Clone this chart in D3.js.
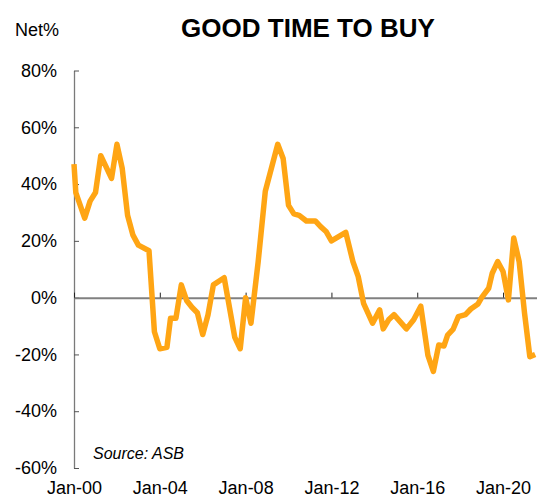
<!DOCTYPE html>
<html>
<head>
<meta charset="utf-8">
<script src="https://cdn.jsdelivr.net/npm/d3@7"></script>
<style>
  body { margin: 0; background: #fff; }
  svg { display: block; font-family: "Liberation Sans", Arial, sans-serif; }
</style>
</head>
<body>
<div id="chart"></div>
<script>
// values
var dates = ["2000-01","2000-02","2000-07","2000-10","2001-01","2001-04","2001-10","2002-01","2002-04","2002-07",
  "2002-10","2003-01","2003-07","2003-10","2004-01","2004-05","2004-07","2004-10","2005-01","2005-04",
  "2005-07","2005-10","2006-01","2006-04","2006-07","2007-01","2007-07","2007-10","2008-01","2008-04",
  "2008-08","2008-12","2009-07","2009-10","2010-01","2010-04","2010-07","2010-11","2011-04","2011-07",
  "2011-10","2012-01","2012-09","2013-01","2013-04","2013-07","2013-12","2014-04","2014-06","2014-09",
  "2014-12","2015-07","2015-11","2016-03","2016-07","2016-10","2017-01","2017-04","2017-06","2017-09",
  "2017-12","2018-04","2018-07","2018-11","2019-01","2019-05","2019-07","2019-10","2020-01","2020-04",
  "2020-07","2020-10","2021-01","2021-04","2021-07"];
var netValues = [47,37,28,34,37,50,42,54,45.5,29,
  22,18.5,16.5,-12,-18,-17.5,-7.3,-7.3,4.5,-1,
  -3.4,-5.3,-13,-6,4.5,7,-14,-18,0,-9,
  12.5,37.5,54,49,32.5,29.5,29,27,27,25,
  23.3,20,23,12.7,7.4,-2,-9,-4.3,-11,-7.8,
  -6,-11,-7.8,-3,-20.3,-26,-16.7,-17,-13.2,-11.2,
  -6.7,-6,-4,-2.2,0,3.3,8.6,12.7,9.2,-0.8,
  21,12.7,-5.5,-20.8,-20];
var yTicks = [-60,-40,-20,0,20,40,60,80];
var xTickYears = [2000,2004,2008,2012,2016,2020];

var width = 537, height = 500;
var parse = d3.timeParse("%Y-%m");
var data = dates.map(function (d, i) { return { date: parse(d), value: netValues[i] }; });

var svg = d3.select("#chart").append("svg")
    .attr("width", width)
    .attr("height", height);

var x = d3.scaleTime()
    .domain([new Date(2000, 0, 1), new Date(2021, 7, 1)])
    .range([74, 537]);

var y = d3.scaleLinear()
    .domain([-60, 80])
    .range([468, 70.5]);

var xTicks = xTickYears.map(function (yr) { return new Date(yr, 0, 1); });

// title and unit
svg.append("text")
    .attr("x", 308).attr("y", 37)
    .attr("text-anchor", "middle")
    .style("font-size", "26px").style("font-weight", "bold")
    .text("GOOD TIME TO BUY");

svg.append("text")
    .attr("x", 15).attr("y", 36)
    .style("font-size", "18px")
    .text("Net%");

// y axis, ticks pointing inwards
var yAxis = svg.append("g")
    .attr("transform", "translate(74,0)")
    .call(d3.axisLeft(y).tickValues(yTicks).tickFormat(function (d) { return d + "%"; })
        .tickSizeInner(-5).tickSizeOuter(0).tickPadding(17));
yAxis.select(".domain").attr("stroke", "#7a7a7a").attr("stroke-width", 1.3);
yAxis.selectAll(".tick line").attr("stroke", "#555");
yAxis.selectAll(".tick text").style("font-size", "18px").attr("fill", "#000")
    .style("font-family", "'Liberation Sans', Arial, sans-serif");

// zero line with small upward ticks
var zeroAxis = svg.append("g")
    .attr("transform", "translate(0," + y(0) + ")")
    .call(d3.axisBottom(x).tickValues(xTicks).tickFormat("").tickSizeInner(-5).tickSizeOuter(0));
zeroAxis.select(".domain").attr("stroke", "#808080").attr("stroke-width", 2);
zeroAxis.selectAll(".tick line").attr("stroke", "#222");

// category labels along the bottom
var labelAxis = svg.append("g")
    .attr("transform", "translate(0,478)")
    .call(d3.axisBottom(x).tickValues(xTicks).tickFormat(d3.timeFormat("Jan-%y")).tickSize(0).tickPadding(3));
labelAxis.select(".domain").remove();
labelAxis.selectAll(".tick text").style("font-size", "18px").attr("fill", "#000")
    .style("font-family", "'Liberation Sans', Arial, sans-serif");

// the series
var line = d3.line()
    .x(function (d) { return x(d.date); })
    .y(function (d) { return y(d.value); });

svg.append("path")
    .datum(data)
    .attr("fill", "none")
    .attr("stroke", "#ffa514")
    .attr("stroke-width", 5.5)
    .attr("stroke-linejoin", "round")
    .attr("d", line);

svg.append("text")
    .attr("x", 93).attr("y", 459)
    .style("font-size", "16px").style("font-style", "italic")
    .text("Source: ASB");
</script>
</body>
</html>
